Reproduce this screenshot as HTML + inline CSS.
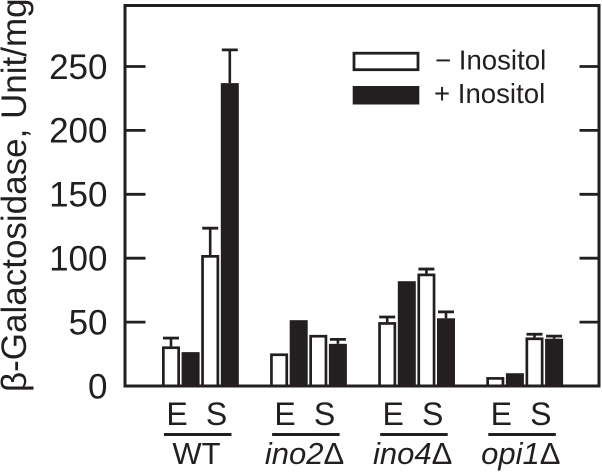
<!DOCTYPE html>
<html>
<head>
<meta charset="utf-8">
<title>Beta-galactosidase activity chart</title>
<style>
html,body{margin:0;padding:0;background:#fff;width:602px;height:473px;overflow:hidden}
svg{display:block}
text{font-family:"Liberation Sans",sans-serif;fill:#231f20}
</style>
</head>
<body>
<svg id="chart" xmlns="http://www.w3.org/2000/svg" width="602" height="473" viewBox="0 0 602 473"></svg>
<script>
const groups = ['WT', 'ino2Δ', 'ino4Δ', 'opi1Δ'];
const phases = ['E', 'S'];
const minusInositol = [31, 102.5, 25.5, 40, 50, 88, 7, 38];
const plusInositol = [26.5, 237, 51.5, 33, 82, 53, 10, 37];
const minusErrorTop = [37.5, 123.5, null, null, 54, 91.5, null, 40.5];
const plusErrorTop = [null, 263, null, 36.5, null, 58, null, 39];
const yTicks = [0, 50, 100, 150, 200, 250];
const legendLabels = ['−  Inositol', '+ Inositol'];
const yTitle = 'β-Galactosidase, Unit/mg';

const INK = '#231f20';
const svg = document.getElementById('chart');
const NS = 'http://www.w3.org/2000/svg';
const frame = {left: 125, right: 599, top: 5.5, bottom: 386};
const yScale = v => frame.bottom - v * 1.278;
const groupX = g => 162 + g * 108.1;
const barX = (g, slot) => groupX(g) + slot * 19.6;
const BAR_W = 18;

function make(tag, attrs, text) {
  const el = document.createElementNS(NS, tag);
  for (const k in attrs) el.setAttribute(k, attrs[k]);
  if (text !== undefined) el.textContent = text;
  svg.appendChild(el);
  return el;
}

function drawError(g, slot, top, base) {
  if (top === null) return;
  const cx = barX(g, slot) + BAR_W / 2;
  const stem = make('line', {x1: cx, x2: cx, y1: yScale(top), y2: yScale(base), stroke: INK, 'stroke-width': 2.6});
  
  
  const cap = make('line', {x1: cx - 8, x2: cx + 8, y1: yScale(top), y2: yScale(top), stroke: INK, 'stroke-width': 2.8});
  
  
}

/* bars */
groups.forEach((name, g) => {
  phases.forEach((phase, p) => {
    const i = g * 2 + p;
    drawError(g, p * 2, minusErrorTop[i], minusInositol[i]);
    drawError(g, p * 2 + 1, plusErrorTop[i], plusInositol[i]);
    const open = make('rect', {
      x: barX(g, p * 2) + 1.35, y: yScale(minusInositol[i]) + 1.35,
      width: BAR_W - 2.7, height: frame.bottom - yScale(minusInositol[i]) - 1.35,
      fill: '#fff', stroke: INK, 'stroke-width': 2.7
    });
    
    
    const solid = make('rect', {
      x: barX(g, p * 2 + 1), y: yScale(plusInositol[i]),
      width: BAR_W, height: frame.bottom - yScale(plusInositol[i]),
      fill: INK
    });
    
    

    const phaseLabel = make('text', {
      x: groupX(g) + 15 + p * 39.5, y: 425, 'font-size': 32, 'text-anchor': 'middle'
    }, phase);
    
    
  });

  const rule = make('line', {x1: groupX(g) + 2, x2: groupX(g) + 69.5, y1: 434.5, y2: 434.5, stroke: INK, 'stroke-width': 3});
  
  

  const label = make('text', {x: groupX(g) + 34.5, y: 464, 'font-size': 31, 'text-anchor': 'middle'});
  
  
  if (name.endsWith('Δ')) {
    const it = document.createElementNS(NS, 'tspan');
    it.setAttribute('font-style', 'italic');
    it.textContent = name.slice(0, -1);
    label.appendChild(it);
    const d = document.createElementNS(NS, 'tspan');
    d.textContent = 'Δ';
    label.appendChild(d);
  } else {
    label.textContent = name;
  }
});

/* frame */
const box = make('rect', {
  x: frame.left, y: frame.top, width: frame.right - frame.left, height: frame.bottom - frame.top,
  fill: 'none', stroke: INK, 'stroke-width': 3
});



/* ticks */
yTicks.forEach(t => {
  if (t > 0) {
    const l = make('line', {x1: frame.left, x2: 145.5, y1: yScale(t), y2: yScale(t), stroke: INK, 'stroke-width': 2.8});
    
    
    const r = make('line', {x1: 579.5, x2: frame.right, y1: yScale(t), y2: yScale(t), stroke: INK, 'stroke-width': 2.8});
    
    
  }
  const tl = make('text', {x: 107.5, y: yScale(t) + 12.3, 'font-size': 35, 'text-anchor': 'end'}, t);
  
  
});

/* y title */
const title = make('text', {transform: 'translate(26,392) rotate(-90)', 'font-size': 35}, yTitle);



/* legend */
const swatchOpen = make('rect', {x: 354, y: 53.2, width: 64, height: 16.5, fill: '#fff', stroke: INK, 'stroke-width': 2.8});


const swatchSolid = make('rect', {x: 352.7, y: 86, width: 66.6, height: 18.5, fill: INK});


const legendA = make('text', {x: 435, y: 69.5, 'font-size': 27.6, 'xml:space': 'preserve'}, legendLabels[0]);


const legendB = make('text', {x: 434, y: 103, 'font-size': 27.6, 'xml:space': 'preserve'}, legendLabels[1]);


</script>
</body>
</html>
